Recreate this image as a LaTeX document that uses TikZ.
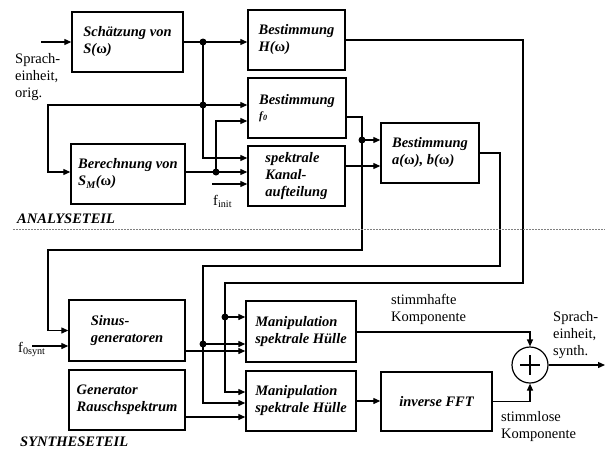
\documentclass[tikz,border=0pt]{standalone}
\usepackage{fontspec}
\setmainfont{Liberation Serif}
\usetikzlibrary{arrows.meta,calc}
\newcommand{\om}{{\upshape ω}}
\begin{document}
\begin{tikzpicture}[x=1pt,y=-1pt,
  box/.style={draw,line width=1.4pt,inner sep=0pt,align=left,
    font=\fontsize{14.5}{17}\selectfont\bfseries\itshape},
  lbl/.style={inner sep=0pt,align=left,font=\fontsize{14.5}{17}\selectfont},
  ttl/.style={inner sep=0pt,anchor=north west,font=\fontsize{14.5}{17}\selectfont\bfseries\itshape},
  ln/.style={line width=1.2pt},
  arr/.style={ln,-{Triangle[length=7pt,width=6pt]}},
  dot/.style={circle,fill=black,inner sep=0pt,minimum size=7pt}]
\useasboundingbox (0,0) rectangle (610,451);
% boxes
\node[box,minimum width=111pt,minimum height=60pt] (sch) at (127.5,42) {Schätzung von\\S(\om)};
\node[box,minimum width=97pt,minimum height=60pt] (bh) at (296.5,40) {Bestimmung\\H(\om)};
\node[box,minimum width=98pt,minimum height=60pt] (bf) at (297,108) {Bestimmung\\[-2pt]{\fontsize{11}{12}\selectfont f\kern0.3pt\raisebox{-1.5pt}{\fontsize{8}{9}\selectfont 0}}\hspace{60pt}\mbox{}};
\node[box,minimum width=97pt,minimum height=60pt] (spk) at (296.5,176) {spektrale\\Kanal-\\aufteilung};
\node[box,minimum width=114pt,minimum height=60pt] (ber) at (128,174) {Berechnung von\\S\textsubscript{M}(\om)\hspace{60pt}\mbox{}};
\node[box,minimum width=98pt,minimum height=60pt] (bab) at (430,153) {Bestimmung\\a(\om), b(\om)};
\node[box,minimum width=116pt,minimum height=61pt] (sin) at (127,330.5) {Sinus-\\generatoren};
\node[box,minimum width=116pt,minimum height=60pt] (gen) at (127,400) {Generator\\Rauschspektrum};
\node[box,minimum width=110pt,minimum height=61pt] (man1) at (301,331.5) {Manipulation\\spektrale Hülle};
\node[box,minimum width=110pt,minimum height=60pt] (man2) at (301,401) {Manipulation\\spektrale Hülle};
\node[box,minimum width=111pt,minimum height=59pt] (fft) at (436.5,401.5) {inverse FFT};
\node[draw,circle,line width=1.2pt,minimum size=36pt,inner sep=0pt] (sum) at (530,365) {};
\draw[line width=1.4pt] ($(sum.center)+(-10,0)$) -- ($(sum.center)+(10,0)$)
  ($(sum.center)+(0,-10)$) -- ($(sum.center)+(0,10)$);
% junctions and coordinates
\coordinate (in) at (41,42);
\node[dot] (j1) at (203,42) {};
\node[dot] (j2) at (203,105) {};
\node[dot] (j3) at (216,172) {};
\node[dot] (j4) at (362,140) {};
\node[dot] (j5) at (225,317) {};
\node[dot] (j6) at (203,344) {};
\coordinate (c1) at (48,105);
\coordinate (c2) at (48,250);
\coordinate (c3) at (523,283);
\coordinate (c4) at (500,266);
\coordinate (fi) at (212,184);
\coordinate (fs) at (32,346);
\coordinate (out) at (605,365);
% analysis connectors
\draw[arr] (in) -- (in -| sch.west);
\draw[ln] (j1 -| sch.east) -- (j1.center);
\draw[arr] (j1.center) -- (j1 -| bh.west);
\draw[ln] (j1.center) -- (j2.center);
\draw[arr] (j2.center) -- (j2 -| bf.west);
\draw[arr] (j2.center) |- ([yshift=18pt]spk.west);
\draw[arr] (j2.center) -- (c1) |- ([yshift=2pt]ber.west);
\draw[ln] ([yshift=2pt]ber.east) -- (j3.center);
\draw[arr] (j3.center) -- (j3 -| spk.west);
\draw[arr] (j3.center) |- ([yshift=-13pt]bf.west);
\draw[arr] (fi) -- (fi -| spk.west);
\node[lbl,anchor=base west] (finit) at (213,205) {f\textsubscript{init}};
\draw[ln] ([yshift=-9pt]bf.east) -| (j4.center);
\draw[arr] (j4.center) -- (j4 -| bab.west);
\draw[arr] ([yshift=10pt]spk.east) -- ([yshift=10pt]spk.east -| bab.west);
% feedback to synthesis
\draw[arr] (j4.center) |- (c2) |- (sin.west);
\draw[ln] (bh.east) -| (c3) -| (j5.center);
\draw[arr] (j5.center) -- (j5 -| man1.west);
\draw[arr] (j5.center) |- ([yshift=9pt]man2.west);
\draw[ln] (bab.east) -| (c4) -| (j6.center);
\draw[arr] (j6.center) -- (j6 -| man1.west);
\draw[arr] (j6.center) |- ([yshift=-2pt]man2.west);
% synthesis connectors
\draw[arr] (fs) -- (fs -| sin.west);
\node[lbl,anchor=base west] (fsyn) at (18,352) {f\textsubscript{0synt}};
\draw[arr] ([yshift=-20.5pt]sin.east) -- ([yshift=-20.5pt]sin.east -| man1.west);
\draw[arr] ([yshift=-17pt]gen.east) -- ([yshift=-17pt]gen.east -| man2.west);
\draw[arr] ([yshift=-0.5pt]man1.east) -| (sum.north);
\draw[arr] (man2.east) -- (man2.east -| fft.west);
\draw[arr] (fft.east) -| (sum.south);
\draw[arr] (sum.east) -- (out);
% labels
\node[lbl,anchor=north west] (l1) at (15,53) {Sprach-\\einheit,\\orig.};
\node[lbl,anchor=north west] (l2) at (391,294) {stimmhafte\\Komponente};
\node[lbl,anchor=north west] (l3) at (553,311) {Sprach-\\einheit,\\synth.};
\node[lbl,anchor=north west] (l4) at (501,411) {stimmlose\\Komponente};
\node[ttl] (t1) at (17,214) {ANALYSETEIL};
\node[ttl] (t2) at (20,437) {SYNTHESETEIL};
\draw[gray,line width=0.6pt,dash pattern=on 2pt off 1pt] (13,229) -- (605,229);
\end{tikzpicture}
\end{document}
